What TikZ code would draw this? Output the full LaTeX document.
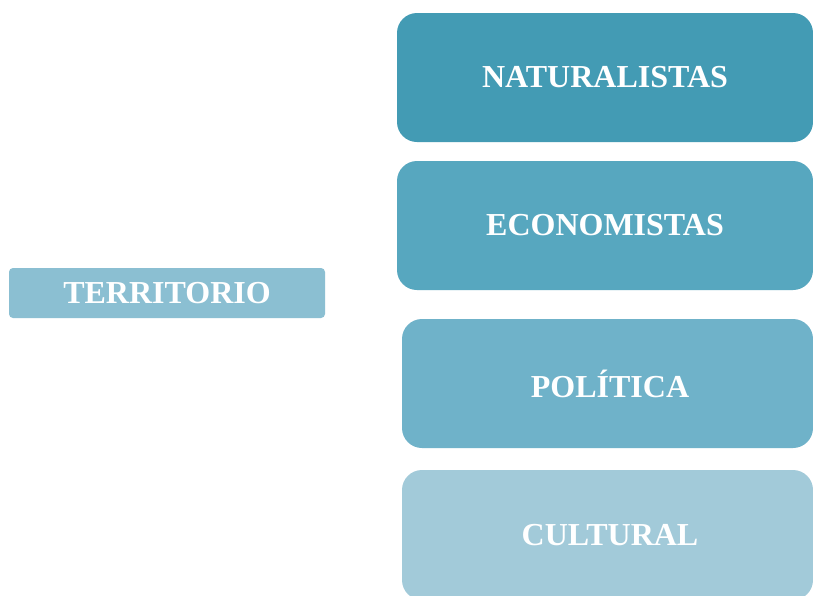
\documentclass[tikz,border=0pt]{standalone}
\usepackage{fontspec}
\setmainfont{Liberation Serif}
\definecolor{cNat}{HTML}{439BB4}
\definecolor{cEco}{HTML}{57A7BF}
\definecolor{cPol}{HTML}{6FB2C9}
\definecolor{cCul}{HTML}{A2CAD9}
\definecolor{cTer}{HTML}{8BBFD2}
\tikzset{
  bigbox/.style={rectangle, rounded corners=20pt, minimum width=416pt, minimum height=129pt,
    inner sep=0pt, text=white, font=\fontsize{32}{36}\selectfont\bfseries},
  terbox/.style={rectangle, rounded corners=4pt, minimum width=316pt, minimum height=50pt,
    inner sep=0pt, text=white, font=\fontsize{32}{36}\selectfont\bfseries, fill=cTer}
}
\begin{document}
\begin{tikzpicture}[x=1pt,y=-1pt]
\clip (0,0) rectangle (813,595);
\fill[white] (0,0) rectangle (813,595);
\node[bigbox, fill=cNat, minimum width=416pt] (nat) at (605,77.5) {NATURALISTAS};
\node[bigbox, fill=cEco, minimum width=416pt] (eco) at (605,225.5) {ECONOMISTAS};
\node[bigbox, fill=cPol, minimum width=411pt] (pol) at (607.5,383.5) {\hspace{5pt}POLÍTICA};
\node[bigbox, fill=cCul, minimum width=411pt, minimum height=130pt] (cul) at (607.5,535) {\hspace{5pt}CULTURAL};
\node[terbox] (ter) at (167,293) {TERRITORIO};
\end{tikzpicture}
\end{document}
